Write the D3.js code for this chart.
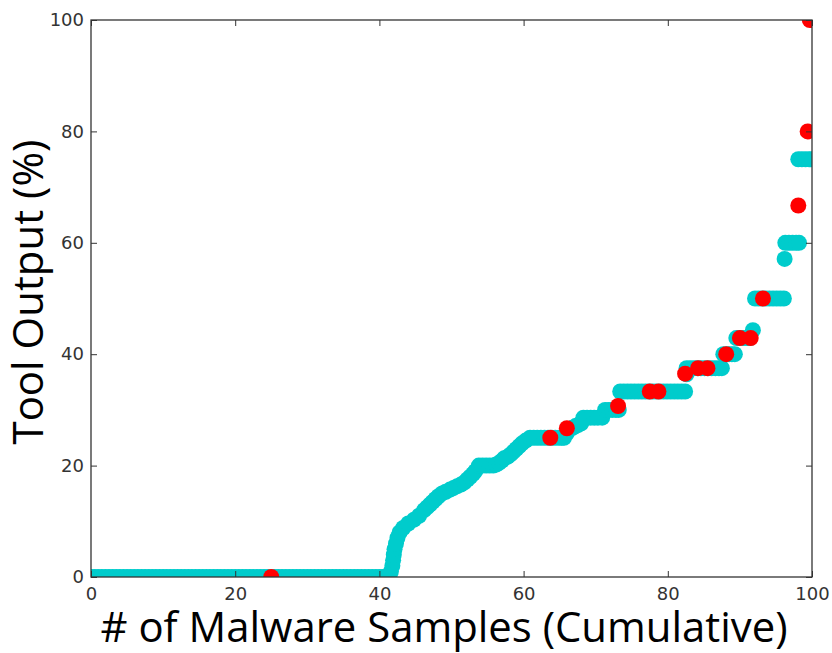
<!DOCTYPE html>
<html>
<head>
<meta charset="utf-8">
<script src="https://cdn.jsdelivr.net/npm/d3@7"></script>
<style>
  html, body { margin: 0; padding: 0; background: #fff; }
  svg { display: block; }
</style>
</head>
<body>
<svg id="chart" width="832" height="653"></svg>
<script>
// cyan series: [cumulative % of samples, tool output %]
const cyanPoints = [
  [0, 0], [0.5, 0], [1, 0], [1.5, 0], [2, 0], [2.5, 0], [3, 0], [3.5, 0], [4, 0], [4.5, 0],
  [5, 0], [5.5, 0], [6, 0], [6.5, 0], [7, 0], [7.5, 0], [8, 0], [8.5, 0], [9, 0], [9.5, 0],
  [10, 0], [10.5, 0], [11, 0], [11.5, 0], [12, 0], [12.5, 0], [13, 0], [13.5, 0], [14, 0], [14.5, 0],
  [15, 0], [15.5, 0], [16, 0], [16.5, 0], [17, 0], [17.5, 0], [18, 0], [18.5, 0], [19, 0], [19.5, 0],
  [20, 0], [20.5, 0], [21, 0], [21.5, 0], [22, 0], [22.5, 0], [23, 0], [23.5, 0], [24, 0], [24.5, 0],
  [25, 0], [25.5, 0], [26, 0], [26.5, 0], [27, 0], [27.5, 0], [28, 0], [28.5, 0], [29, 0], [29.5, 0],
  [30, 0], [30.5, 0], [31, 0], [31.5, 0], [32, 0], [32.5, 0], [33, 0], [33.5, 0], [34, 0], [34.5, 0],
  [35, 0], [35.5, 0], [36, 0], [36.5, 0], [37, 0], [37.5, 0], [38, 0], [38.5, 0], [39, 0], [39.5, 0],
  [40, 0], [40.5, 0], [41, 0], [41.4, 0],
  [41.6, 1], [41.8, 2], [41.9, 3], [42.0, 4], [42.1, 5], [42.3, 6], [42.5, 7], [42.8, 8],
  [43.3, 8.8], [44.0, 9.6], [44.8, 10.3], [45.5, 11.0], [46.2, 12.0], [46.6, 12.5], [47.0, 13.0],
  [47.4, 13.5], [47.8, 14.0], [48.2, 14.5], [48.7, 15.0], [49.2, 15.3], [49.8, 15.7], [50.3, 16.0],
  [50.8, 16.3], [51.3, 16.6], [51.8, 17.0], [52.2, 17.5], [52.6, 18.0], [53.0, 18.5], [53.3, 19.0],
  [53.8, 20], [54.3, 20], [54.8, 20], [55.3, 20], [55.8, 20], [56.2, 20.2], [56.6, 20.5],
  [57.0, 20.9], [57.3, 21.3], [57.8, 21.6], [58.2, 22.0], [58.6, 22.5], [59.0, 23.0], [59.4, 23.5],
  [59.8, 24.0], [60.3, 24.5],
  [60.9, 25], [61.4, 25], [61.9, 25], [62.4, 25], [62.9, 25], [63.4, 25], [63.9, 25], [64.4, 25],
  [64.9, 25], [65.3, 25], [65.6, 25],
  [66.0, 25.8], [66.3, 26.5], [66.8, 26.8], [67.2, 27.1], [67.6, 27.3], [68.0, 27.6],
  [68.3, 28.6], [68.8, 28.6], [69.3, 28.6], [69.8, 28.6], [70.3, 28.6], [70.9, 28.6],
  [71.3, 30], [71.8, 30], [72.3, 30], [72.8, 30], [73.2, 30],
  [73.4, 33.3], [73.9, 33.3], [74.4, 33.3], [74.9, 33.3], [75.4, 33.3], [75.9, 33.3], [76.4, 33.3],
  [76.9, 33.3], [77.4, 33.3], [77.9, 33.3], [78.4, 33.3], [78.9, 33.3], [79.4, 33.3], [79.9, 33.3],
  [80.4, 33.3], [80.9, 33.3], [81.4, 33.3], [81.9, 33.3], [82.4, 33.3],
  [82.6, 36.4], [82.6, 37.5], [83.1, 37.5], [83.6, 37.5], [84.1, 37.5], [84.6, 37.5], [85.1, 37.5],
  [85.6, 37.5], [86.1, 37.5], [86.6, 37.5], [87.1, 37.5], [87.5, 37.5],
  [87.7, 40], [88.1, 40], [88.5, 40], [88.9, 40], [89.3, 40],
  [89.5, 42.9], [90.0, 42.9], [90.5, 42.9], [91.0, 42.9], [91.4, 42.9],
  [91.8, 44.3],
  [92.1, 50], [92.6, 50], [93.1, 50], [93.6, 50], [94.1, 50], [94.6, 50], [95.1, 50], [95.6, 50], [96.1, 50],
  [96.2, 57.1],
  [96.3, 60], [96.8, 60], [97.3, 60], [97.8, 60], [98.2, 60],
  [98.1, 75], [98.6, 75], [99.1, 75], [99.6, 75], [100, 75]
];

// red series
const redX = [25, 63.7, 66.0, 73.1, 77.5, 78.7, 82.4, 84.2, 85.5, 88.1, 90.0, 91.5, 93.2, 98.1, 99.4, 99.7];
const redY = [0, 25, 26.7, 30.7, 33.3, 33.3, 36.5, 37.5, 37.5, 40, 42.9, 42.9, 50, 66.7, 80, 100];

const xTicks = [0, 20, 40, 60, 80, 100];
const yTicks = [0, 20, 40, 60, 80, 100];

const xTitle = "# of Malware Samples (Cumulative)";
const yTitle = "Tool Output (%)";

const margin = { top: 20, right: 20, bottom: 76, left: 91 };
const width = 832, height = 653;
const plotW = width - margin.left - margin.right;
const plotH = height - margin.top - margin.bottom;

const svg = d3.select("#chart");

const x = d3.scaleLinear().domain([0, 100]).range([0, plotW]);
const y = d3.scaleLinear().domain([0, 100]).range([plotH, 0]);

svg.append("defs").append("clipPath").attr("id", "plot-clip")
  .append("rect").attr("width", plotW).attr("height", plotH);

const g = svg.append("g").attr("transform", `translate(${margin.left},${margin.top})`);

const pts = g.append("g").attr("clip-path", "url(#plot-clip)");

pts.selectAll("circle.cyan")
  .data(cyanPoints)
  .enter()
  .append("circle")
  .attr("class", "cyan")
  .attr("cx", d => x(d[0]))
  .attr("cy", d => y(d[1]))
  .attr("r", 8)
  .attr("fill", "#00cccc");

pts.selectAll("circle.red")
  .data(redX.map((d, i) => [d, redY[i]]))
  .enter()
  .append("circle")
  .attr("class", "red")
  .attr("cx", d => x(d[0]))
  .attr("cy", d => y(d[1]))
  .attr("r", 8)
  .attr("fill", "#ff0000");

// ticks point inward on all four sides
const tickLen = 6;
const styleAxis = (sel) => {
  sel.select(".domain").remove();
  sel.selectAll(".tick line").attr("stroke", "#333").attr("stroke-width", 1);
  sel.selectAll(".tick text")
    .attr("font-family", "DejaVu Sans")
    .attr("font-size", "18px")
    .attr("fill", "#333");
};

g.append("g")
  .attr("transform", `translate(0,${plotH})`)
  .call(d3.axisBottom(x).tickValues(xTicks).tickSizeInner(-tickLen).tickSizeOuter(0).tickPadding(10))
  .call(styleAxis);

g.append("g")
  .call(d3.axisTop(x).tickValues(xTicks).tickSizeInner(-tickLen).tickSizeOuter(0).tickFormat(""))
  .call(styleAxis);

g.append("g")
  .call(d3.axisLeft(y).tickValues(yTicks).tickSizeInner(-tickLen).tickSizeOuter(0).tickPadding(7))
  .call(styleAxis);

g.append("g")
  .attr("transform", `translate(${plotW},0)`)
  .call(d3.axisRight(y).tickValues(yTicks).tickSizeInner(-tickLen).tickSizeOuter(0).tickFormat(""))
  .call(styleAxis);

g.append("rect")
  .attr("width", plotW)
  .attr("height", plotH)
  .attr("fill", "none")
  .attr("stroke", "#333")
  .attr("stroke-width", 1.3);

// axis titles, sized to the width they take in the original
const fitText = (sel, target) => {
  const len = sel.node().getComputedTextLength();
  sel.attr("font-size", (38 * target / len).toFixed(2) + "px");
};

svg.append("text")
  .attr("x", 444)
  .attr("y", 642)
  .attr("text-anchor", "middle")
  .attr("font-family", "Open Sans")
  .attr("font-size", "38px")
  .attr("fill", "#000")
  .text(xTitle)
  .call(fitText, 687);

svg.append("text")
  .attr("transform", "translate(43,292) rotate(-90)")
  .attr("text-anchor", "middle")
  .attr("font-family", "Open Sans")
  .attr("font-size", "38px")
  .attr("fill", "#000")
  .text(yTitle)
  .call(fitText, 305);
</script>
</body>
</html>
